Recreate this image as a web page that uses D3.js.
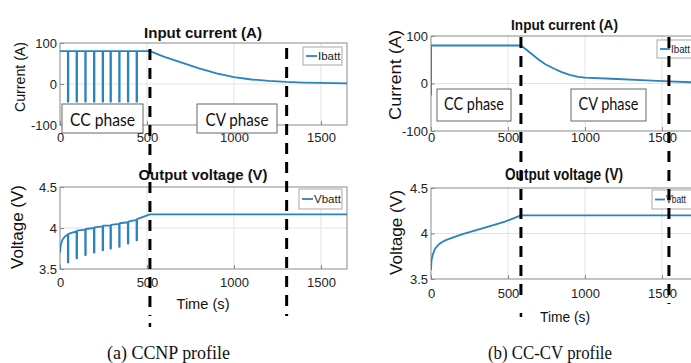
<!DOCTYPE html>
<html><head><meta charset="utf-8">
<script src="https://cdn.jsdelivr.net/npm/d3@7"></script>
<style>body{margin:0;background:#fff} svg{display:block}</style>
</head><body>
<svg id="c" width="691" height="363"></svg>
<script>
// ---------- DATA ----------
const xTicks = [0, 500, 1000, 1500];
const currentTicks = [-100, 0, 100];
const voltageTicks = [3.5, 4, 4.5];

// (a) CCNP profile
const ccnpPulseTimes = [45, 95, 145, 195, 245, 290, 340, 390, 440];
const ccnpPulseWidth = 3;
const ccnpCCCurrent = 80;
const ccnpPulseCurrent = -43;
const ccnpCVTime = [517, 600, 700, 800, 900, 1000, 1100, 1200, 1300, 1400, 1500, 1650];
const ccnpCVCurrent = [80, 66, 52, 38, 26, 17, 11, 7.5, 5, 3.5, 2.5, 1.5];
const ccnpStartTime = [0, 5, 15, 30];
const ccnpStartVoltage = [3.70, 3.80, 3.86, 3.90];
const ccnpPrePulseVoltage = [3.92, 3.96, 3.98, 4.00, 4.02, 4.03, 4.05, 4.07, 4.10];
const ccnpDipVoltage = [3.58, 3.63, 3.67, 3.70, 3.73, 3.75, 3.77, 3.81, 3.85];
const ccnpCVVoltageTime = [517, 1650];
const ccnpCVVoltage = [4.165, 4.165];
const ccnpPhaseBoundaries = [517, 1303];

// (b) CC-CV profile
const cccvTime = [0, 1, 584, 620, 654, 700, 740, 800, 849, 900, 957, 1000, 1173, 1400, 1545, 1700];
const cccvCurrent = [-25, 80, 80, 71, 62, 50, 41, 31, 24, 18, 14, 12.5, 10, 6.5, 4.5, 2.5];
const cccvVTime = [0, 3, 10, 25, 50, 75, 100, 150, 200, 300, 400, 480, 584, 1700];
const cccvVoltage = [3.6, 3.7, 3.76, 3.83, 3.88, 3.91, 3.93, 3.96, 3.99, 4.04, 4.09, 4.13, 4.2, 4.2];
const cccvPhaseBoundaries = [584, 1545];

// ---------- BUILD SERIES ----------
const ccnpCurrentSeries = [[0, ccnpCCCurrent]];
ccnpPulseTimes.forEach(t => {
  ccnpCurrentSeries.push([t, ccnpCCCurrent], [t, ccnpPulseCurrent],
    [t + ccnpPulseWidth, ccnpPulseCurrent], [t + ccnpPulseWidth, ccnpCCCurrent]);
});
ccnpCVTime.forEach((t, i) => ccnpCurrentSeries.push([t, ccnpCVCurrent[i]]));

const ccnpVoltageSeries = ccnpStartTime.map((t, i) => [t, ccnpStartVoltage[i]]);
ccnpPulseTimes.forEach((t, i) => {
  ccnpVoltageSeries.push([t, ccnpPrePulseVoltage[i]], [t, ccnpDipVoltage[i]],
    [t + ccnpPulseWidth, ccnpDipVoltage[i]], [t + ccnpPulseWidth, ccnpPrePulseVoltage[i] + 0.008]);
});
ccnpCVVoltageTime.forEach((t, i) => ccnpVoltageSeries.push([t, ccnpCVVoltage[i]]));

const cccvCurrentSeries = cccvTime.map((t, i) => [t, cccvCurrent[i]]);
const cccvVoltageSeries = cccvVTime.map((t, i) => [t, cccvVoltage[i]]);

// ---------- DRAW ----------
const svg = d3.select("#c");
const BLUE = "#2a82bf";
const SANS = "'Liberation Sans', Arial, sans-serif";
const fmt = d => String(d);
const defs = svg.append("defs");
let clipId = 0;

function panel(o) {
  const x = d3.scaleLinear().domain(o.xDomain).range(o.xRange);
  const y = d3.scaleLinear().domain(o.yDomain).range(o.yRange);
  const g = svg.append("g");
  const [x0, x1] = o.xRange, [y0, y1] = [o.yRange[1], o.yRange[0]];
  // grid
  g.selectAll(".gx").data(xTicks.filter(t => t > 0)).join("line")
    .attr("x1", d => x(d)).attr("x2", d => x(d)).attr("y1", y0).attr("y2", y1)
    .attr("stroke", "#e3e3e3").attr("stroke-width", 1);
  g.selectAll(".gy").data(o.yTicks.slice(1, -1)).join("line")
    .attr("y1", d => y(d)).attr("y2", d => y(d)).attr("x1", x0).attr("x2", x1)
    .attr("stroke", "#e3e3e3").attr("stroke-width", 1);
  // axes
  const ax = g.append("g").attr("transform", `translate(0,${y1})`)
    .call(d3.axisBottom(x).tickValues(xTicks).tickSize(-4).tickPadding(o.xPad).tickFormat(fmt));
  const ay = g.append("g").attr("transform", `translate(${x0},0)`)
    .call(d3.axisLeft(y).tickValues(o.yTicks).tickSize(-4).tickPadding(o.yPad).tickFormat(fmt));
  [ax, ay].forEach(a => {
    a.select(".domain").remove();
    a.selectAll("line").attr("stroke", "#8a8a8a");
    a.selectAll("text").attr("font-family", SANS).attr("font-size", o.tickSize).attr("fill", "#222");
  });
  g.append("rect").attr("x", x0).attr("y", y0).attr("width", x1 - x0).attr("height", y1 - y0)
    .attr("fill", "none").attr("stroke", "#8a8a8a").attr("stroke-width", 1);
  // clip + line
  const id = "clip" + (clipId++);
  defs.append("clipPath").attr("id", id).append("rect")
    .attr("x", x0).attr("y", y0).attr("width", x1 - x0).attr("height", y1 - y0);
  g.append("path").datum(o.series).attr("clip-path", `url(#${id})`)
    .attr("d", d3.line().x(d => x(d[0])).y(d => y(d[1])))
    .attr("fill", "none").attr("stroke", BLUE).attr("stroke-width", 1.8).attr("stroke-linejoin", "round");
  // title
  g.append("text").attr("x", o.title.x).attr("y", o.title.y).attr("text-anchor", "middle")
    .attr("font-family", SANS).attr("font-weight", "bold").attr("font-size", o.title.size)
    .attr("textLength", o.title.len).attr("lengthAdjust", "spacingAndGlyphs").attr("fill", "#111")
    .text(o.title.text);
  // y label
  g.append("text").attr("transform", `translate(${o.ylab.x},${o.ylab.y}) rotate(-90)`)
    .attr("text-anchor", "middle").attr("dy", "0.35em")
    .attr("font-family", SANS).attr("font-size", o.ylab.size)
    .attr("textLength", o.ylab.len).attr("lengthAdjust", "spacingAndGlyphs").attr("fill", "#111")
    .text(o.ylab.text);
  // x label
  if (o.xlab) {
    g.append("text").attr("x", o.xlab.x).attr("y", o.xlab.y).attr("text-anchor", "middle")
      .attr("font-family", SANS).attr("font-size", o.xlab.size)
      .attr("textLength", o.xlab.len).attr("lengthAdjust", "spacingAndGlyphs").attr("fill", "#111")
      .text(o.xlab.text);
  }
  // legend
  const L = o.legend;
  g.append("rect").attr("x", L.x).attr("y", L.y).attr("width", L.w).attr("height", L.h)
    .attr("fill", "#fff").attr("stroke", "#a8a8a8").attr("stroke-width", 1);
  g.append("line").attr("x1", L.x + 3).attr("x2", L.x + 3 + L.line).attr("y1", L.y + L.h / 2).attr("y2", L.y + L.h / 2)
    .attr("stroke", BLUE).attr("stroke-width", 1.8);
  const lt = g.append("text").attr("x", L.x + 4 + L.line).attr("y", L.y + L.h / 2).attr("dy", "0.36em")
    .attr("font-family", SANS).attr("font-size", L.size || 11.5).attr("fill", "#222").text(L.text);
  if (L.len) lt.attr("textLength", L.len).attr("lengthAdjust", "spacingAndGlyphs");
  // phase boxes
  (o.boxes || []).forEach(b => {
    g.append("rect").attr("x", b.x).attr("y", b.y).attr("width", b.w).attr("height", b.h)
      .attr("fill", "#fff").attr("stroke", "#666").attr("stroke-width", 1);
    g.append("text").attr("x", b.x + b.w / 2).attr("y", b.base).attr("text-anchor", "middle")
      .attr("font-family", "Lato, 'Open Sans', sans-serif").attr("font-size", b.size)
      .attr("textLength", b.len).attr("lengthAdjust", "spacingAndGlyphs").attr("fill", "#111").text(b.text);
  });
  return x;
}

// (a) CCNP
const xa = panel({
  xDomain: [0, 1650], xRange: [60, 347], yDomain: [-100, 100], yRange: [125, 43],
  yTicks: currentTicks, series: ccnpCurrentSeries, xPad: 8, yPad: 3, tickSize: 13,
  title: { text: "Input current (A)", x: 203, y: 37.5, size: 15, len: 118 },
  ylab: { text: "Current (A)", x: 20, y: 77, size: 14, len: 70 },
  legend: { x: 303, y: 47, w: 39, h: 18, line: 11, text: "Ibatt" },
  boxes: [
    { x: 62, y: 104, w: 81, h: 29, base: 126, size: 17, len: 65, text: "CC phase" },
    { x: 197, y: 104, w: 80, h: 29, base: 126, size: 17, len: 63, text: "CV phase" }
  ]
});
panel({
  xDomain: [0, 1650], xRange: [60, 347], yDomain: [3.5, 4.5], yRange: [269, 187],
  yTicks: voltageTicks, series: ccnpVoltageSeries, xPad: 9, yPad: 3, tickSize: 13,
  title: { text: "Output voltage (V)", x: 203, y: 180, size: 15, len: 129 },
  ylab: { text: "Voltage (V)", x: 17, y: 227, size: 16, len: 84 },
  xlab: { text: "Time (s)", x: 203, y: 308.5, size: 14, len: 53 },
  legend: { x: 299, y: 189, w: 43, h: 20, line: 11, text: "Vbatt" }
});

// (b) CC-CV
const xb = panel({
  xDomain: [0, 1700], xRange: [431, 692.8], yDomain: [-100, 100], yRange: [131, 36],
  yTicks: currentTicks, series: cccvCurrentSeries, xPad: 2, yPad: 3, tickSize: 13,
  title: { text: "Input current (A)", x: 564.5, y: 29.5, size: 15.5, len: 107 },
  ylab: { text: "Current (A)", x: 395, y: 75, size: 16, len: 90 },
  legend: { x: 657, y: 40, w: 45, h: 18, line: 10, text: "Ibatt", size: 11, len: 19 },
  boxes: [
    { x: 437, y: 89, w: 74, h: 32, base: 110, size: 16.5, len: 60, text: "CC phase" },
    { x: 571, y: 89, w: 75, h: 32, base: 110, size: 16.5, len: 60, text: "CV phase" }
  ]
});
panel({
  xDomain: [0, 1700], xRange: [431, 692.8], yDomain: [3.5, 4.5], yRange: [279, 188],
  yTicks: voltageTicks, series: cccvVoltageSeries, xPad: 10, yPad: 3, tickSize: 13,
  title: { text: "Output voltage (V)", x: 564, y: 180, size: 16, len: 118 },
  ylab: { text: "Voltage (V)", x: 396, y: 232.5, size: 16, len: 85 },
  xlab: { text: "Time (s)", x: 565, y: 322, size: 15, len: 50 },
  legend: { x: 652, y: 190, w: 50, h: 19, line: 10, text: "Vbatt", size: 10.5, len: 20 }
});

// phase boundary dashed lines
function dashed(x, y1, y2, dot) {
  svg.append("line").attr("x1", x).attr("x2", x).attr("y1", y1).attr("y2", y2)
    .attr("stroke", "#000").attr("stroke-width", 3).attr("stroke-dasharray", "11,8");
  if (dot) svg.append("line").attr("x1", x).attr("x2", x).attr("y1", dot - 2).attr("y2", dot + 2)
    .attr("stroke", "#000").attr("stroke-width", 2.5);
}
dashed(xa(ccnpPhaseBoundaries[0]), 49, 316, 325);
dashed(xa(ccnpPhaseBoundaries[1]), 48, 316);
dashed(xb(cccvPhaseBoundaries[0]), 37, 298, 315);
dashed(xb(cccvPhaseBoundaries[1]), 37, 304);

// captions
const SERIF = "'Liberation Serif', 'Times New Roman', serif";
svg.append("text").attr("x", 168.5).attr("y", 359).attr("text-anchor", "middle")
  .attr("font-family", SERIF).attr("font-size", 18).attr("textLength", 123)
  .attr("lengthAdjust", "spacingAndGlyphs").attr("fill", "#111").text("(a) CCNP profile");
svg.append("text").attr("x", 550).attr("y", 359).attr("text-anchor", "middle")
  .attr("font-family", SERIF).attr("font-size", 18).attr("textLength", 124)
  .attr("lengthAdjust", "spacingAndGlyphs").attr("fill", "#111").text("(b) CC-CV profile");
</script>
</body></html>
